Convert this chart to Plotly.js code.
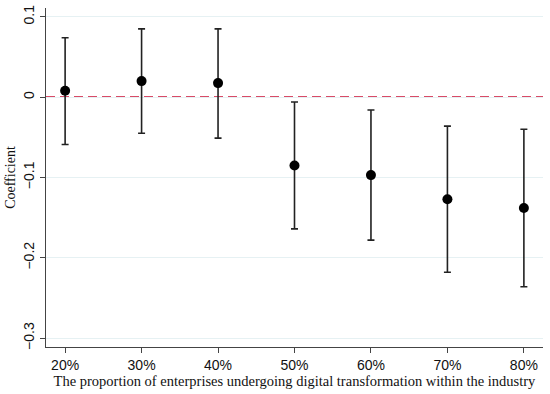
<!DOCTYPE html>
<html>
<head>
<meta charset="utf-8">
<script src="https://cdn.plot.ly/plotly-3.0.1.min.js"></script>
<style>html,body{margin:0;padding:0;background:#fff;}#chart{width:550px;height:394px;}</style>
</head>
<body>
<div id="chart"></div>
<script>
const categories = ["20%", "30%", "40%", "50%", "60%", "70%", "80%"];
const coef  = [0.008, 0.020, 0.0175, -0.085, -0.097, -0.127, -0.138];
const upper = [0.074, 0.085, 0.085, -0.006, -0.016, -0.036, -0.040];
const lower = [-0.059, -0.045, -0.051, -0.164, -0.178, -0.218, -0.236];
const yTickVals = [0.1, 0, -0.1, -0.2, -0.3];
const yTickText = ["0.1", "0", "\u22120.1", "\u22120.2", "\u22120.3"];

const xIdx = categories.map((c, i) => i);
const trace = {
  x: xIdx,
  y: coef,
  type: "scatter",
  mode: "markers",
  marker: {color: "#000", size: 10},
  error_y: {
    type: "data",
    symmetric: false,
    array: upper.map((u, i) => u - coef[i]),
    arrayminus: coef.map((c, i) => c - lower[i]),
    color: "#222",
    thickness: 1.6,
    width: 3.5
  },
  hoverinfo: "skip"
};

const layout = {
  width: 550, height: 394,
  margin: {l: 46, r: 7, t: 8, b: 47},
  paper_bgcolor: "#fff",
  plot_bgcolor: "#fff",
  showlegend: false,
  xaxis: {
    range: [-0.25, 6.25],
    tickmode: "array",
    tickvals: xIdx,
    ticktext: categories,
    ticks: "outside", ticklen: 5, tickcolor: "#444", tickwidth: 1,
    showline: true, linecolor: "#444", linewidth: 1.2,
    showgrid: false, zeroline: false,
    tickfont: {family: "Liberation Sans, Arial, sans-serif", size: 14, color: "#111"},
    title: {text: "The proportion of enterprises undergoing digital transformation within the industry",
            font: {family: "Liberation Serif, Times New Roman, serif", size: 14.5, color: "#111"}, standoff: 3}
  },
  yaxis: {
    range: [-0.311, 0.111],
    tickmode: "array",
    tickvals: yTickVals,
    ticktext: yTickText,
    tickangle: -90,
    ticks: "outside", ticklen: 5, tickcolor: "#444", tickwidth: 1,
    showline: true, linecolor: "#444", linewidth: 1.2,
    showgrid: true, gridcolor: "#e6f1f3", gridwidth: 1,
    zeroline: false,
    tickfont: {family: "Liberation Sans, Arial, sans-serif", size: 14, color: "#111"},
    title: {text: "Coefficient",
            font: {family: "Liberation Serif, Times New Roman, serif", size: 14, color: "#111"}, standoff: 2}
  },
  shapes: [{
    type: "line", xref: "paper", x0: 0, x1: 1, yref: "y", y0: 0, y1: 0,
    line: {color: "#cc1036", width: 1.6, dash: "9px,5px"}, layer: "below"
  }]
};

Plotly.newPlot("chart", [trace], layout, {displayModeBar: false, staticPlot: true});
</script>
</body>
</html>
